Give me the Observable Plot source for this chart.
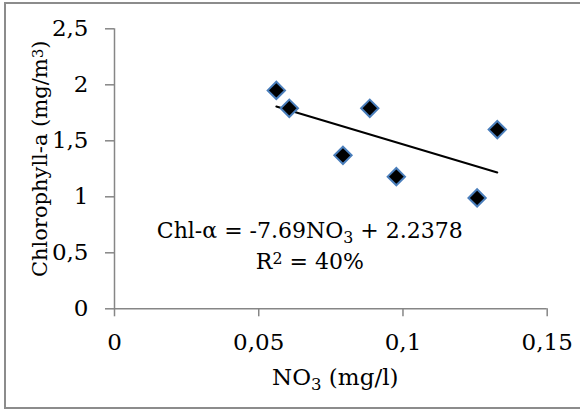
<!DOCTYPE html>
<html>
<head>
<meta charset="utf-8">
<script src="https://cdn.jsdelivr.net/npm/d3@7"></script>
<script src="https://cdn.jsdelivr.net/npm/@observablehq/plot@0.6"></script>
<style>
  html, body { margin: 0; padding: 0; background: #fff; }
  #wrap { position: relative; width: 580px; height: 411px; overflow: hidden; }
  #border { position: absolute; left: 4px; top: 2px; width: 600px; height: 407px; border: 2px solid #8c8c8c; box-sizing: border-box; pointer-events: none; }
</style>
</head>
<body>
<div id="wrap"><div id="border"></div></div>
<script>
// Data
const no3 = [0.0561, 0.0606, 0.0792, 0.0885, 0.0977, 0.1257, 0.1327];
const chl = [1.95, 1.79, 1.37, 1.79, 1.18, 0.99, 1.60];
const slope = -7.69;
const intercept = 2.2378;
const xTickValues = [0, 0.05, 0.1, 0.15];
const xTickLabels = ["0", "0,05", "0,1", "0,15"];
const yTickValues = [0, 0.5, 1, 1.5, 2, 2.5];
const yTickLabels = ["0", "0,5", "1", "1,5", "2", "2,5"];
const equationLines = ["Chl-α = -7.69NO₃ + 2.2378", "R² = 40%"];
const xTitle = "NO₃ (mg/l)";
const yTitle = "Chlorophyll-a (mg/m³)";

const points = no3.map((x, i) => ({x, y: chl[i]}));
const xMin = d3.min(no3), xMax = d3.max(no3);
const trend = [xMin, xMax].map(x => ({x, y: slope * x + intercept}));
const eq = [
  {x: 0.0677, y: 0.695, t: equationLines[0]},
  {x: 0.0677, y: 0.421, t: equationLines[1]}
];

const gray = "#868686";
const chart = Plot.plot({
  width: 580,
  height: 411,
  marginLeft: 114,
  marginRight: 33.3,
  marginTop: 28.3,
  marginBottom: 102.7,
  style: {fontFamily: "DejaVu Serif", fontSize: "23px", color: "#000", background: "transparent"},
  x: {domain: [0, 0.15]},
  y: {domain: [0, 2.5]},
  marks: [
    Plot.ruleX([0], {stroke: gray, strokeWidth: 1.5}),
    Plot.ruleY([0], {stroke: gray, strokeWidth: 1.5}),
    Plot.axisX({ticks: xTickValues, tickFormat: (d) => xTickLabels[xTickValues.indexOf(d)], tickSize: 8, tickPadding: 17, stroke: gray, strokeWidth: 1.5, fill: "#000", label: null, fontSize: 23}),
    Plot.axisY({ticks: yTickValues, tickFormat: (d) => yTickLabels[yTickValues.indexOf(d)], tickSize: 9, tickPadding: 17, stroke: gray, strokeWidth: 1.5, fill: "#000", label: null, fontSize: 23}),
    Plot.line(trend, {x: "x", y: "y", stroke: "#000", strokeWidth: 2}),
    Plot.dot(points, {x: "x", y: "y", symbol: "diamond2", r: 7.8, fill: "#000", stroke: "#4a7ebb", strokeWidth: 2}),
    Plot.text(eq, {x: "x", y: "y", text: "t", fontSize: 22, fill: "#000", textAnchor: "middle"}),
    Plot.text([xTitle], {frameAnchor: "bottom", dx: 4.4, dy: 76.3, fontSize: 23, fill: "#000", textAnchor: "middle"}),
    Plot.text([yTitle], {frameAnchor: "left", dx: -74.7, dy: -10, rotate: -90, fontSize: 21, fill: "#000", textAnchor: "middle"})
  ]
});

// Render sub/superscript characters as shifted tspans (text stays real text)
const scripts = {"₃": ["3", "sub"], "²": ["2", "super"], "³": ["3", "super"]};
chart.querySelectorAll("text").forEach(t => {
  const s = t.textContent;
  if (!/[₃²³]/.test(s) || t.children.length) return;
  t.textContent = "";
  let buf = "";
  const flush = () => { if (buf) { t.appendChild(document.createTextNode(buf)); buf = ""; } };
  for (const ch of s) {
    if (scripts[ch]) {
      flush();
      const ts = document.createElementNS("http://www.w3.org/2000/svg", "tspan");
      ts.textContent = scripts[ch][0];
      ts.setAttribute("baseline-shift", scripts[ch][1] === "sub" ? "-30%" : "30%");
      ts.setAttribute("font-size", "72%");
      t.appendChild(ts);
    } else buf += ch;
  }
  flush();
});
document.getElementById("wrap").insertBefore(chart, document.getElementById("border"));
</script>
</body>
</html>
